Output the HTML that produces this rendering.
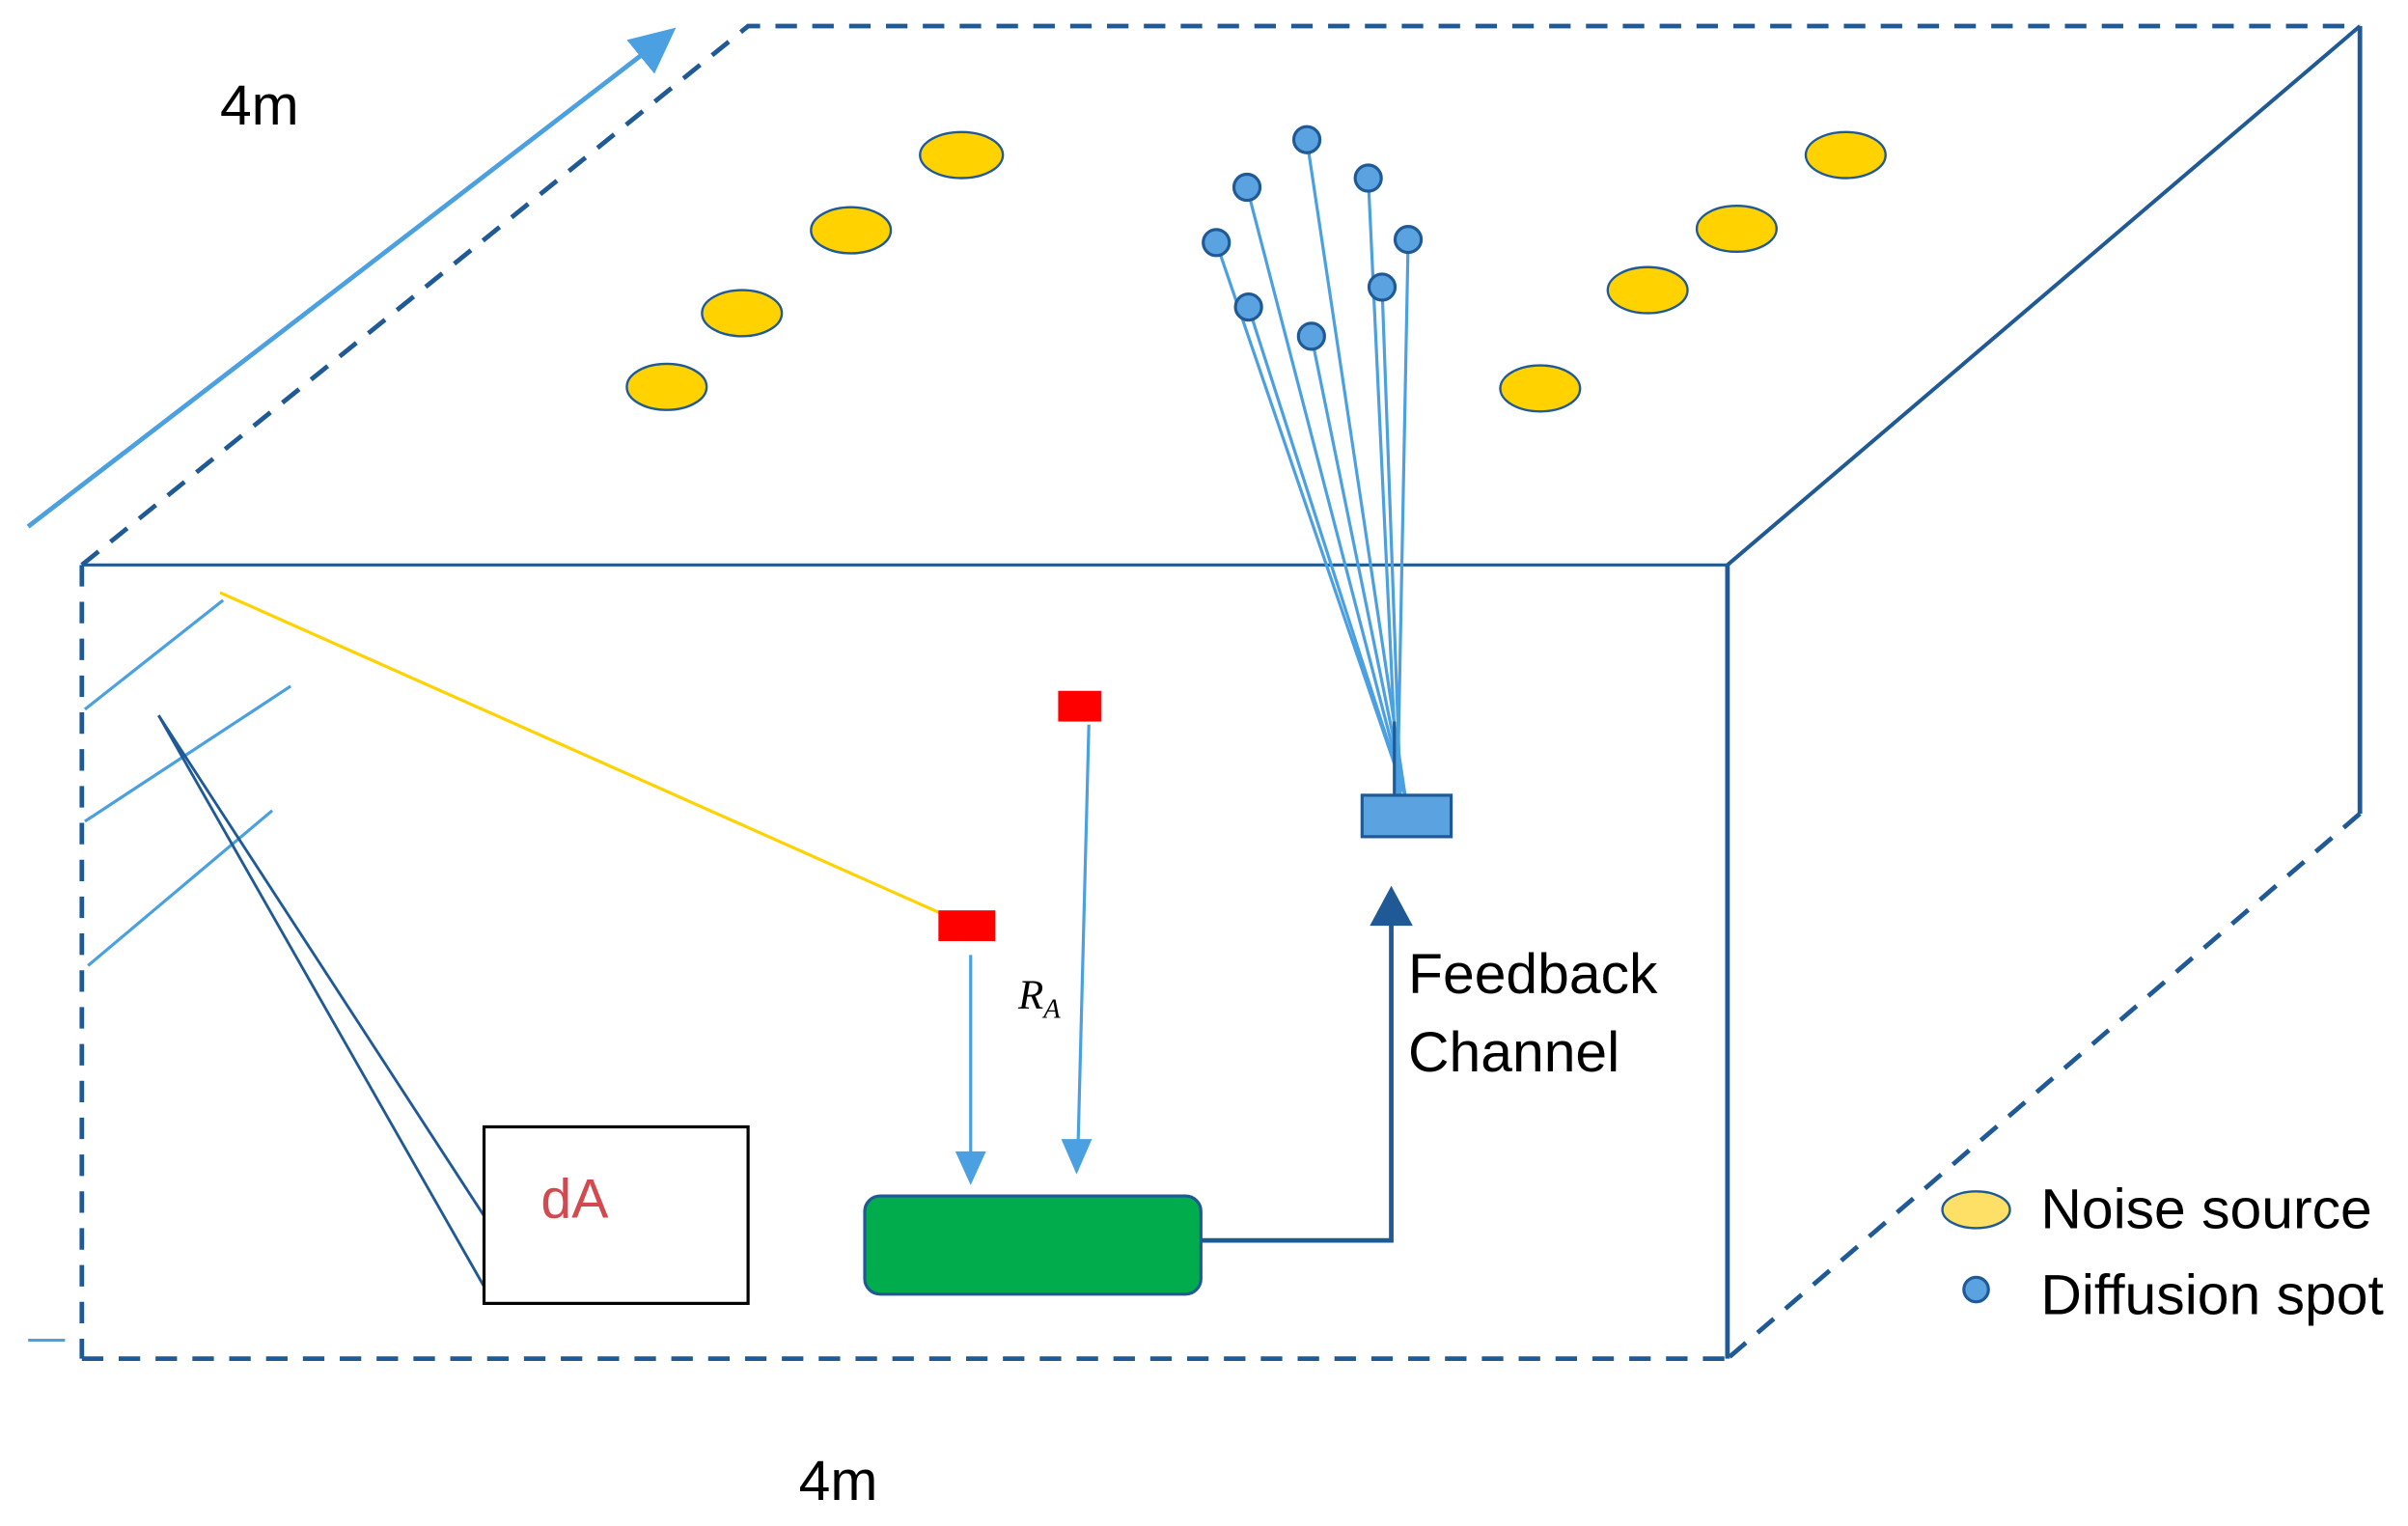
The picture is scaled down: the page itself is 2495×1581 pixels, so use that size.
<!DOCTYPE html>
<html><head><meta charset="utf-8"><style>html,body{margin:0;padding:0;background:#fff}svg{display:block}</style></head>
<body>
<svg width="2495" height="1581" viewBox="0 0 1568 994" xmlns="http://www.w3.org/2000/svg" font-family="Liberation Sans, sans-serif">
<rect width="1568" height="994" fill="#fff"/>
<g stroke="#1f5a96" fill="none">
<path d="M53,368 L487,17 L1537,17" stroke-width="3" stroke-dasharray="14,10"/>
<path d="M1537,17 L1537,530" stroke-width="3"/>
<path d="M1537,530 L1125,885" stroke-width="3" stroke-dasharray="14,10"/>
<path d="M53,368 L1125,368" stroke-width="2"/>
<path d="M1125,368 L1537,17" stroke-width="2.5"/>
<path d="M1125,368 L1125,885" stroke-width="3"/>
<path d="M53,885 L1125,885 M53,368 L53,885" stroke-width="3" stroke-dasharray="14,10"/>
</g>
<line x1="18" y1="343" x2="420" y2="34" stroke="#4aa0e0" stroke-width="3"/>
<polygon points="440,18 408,26 426,48" fill="#4aa0e0"/>
<text x="143" y="81" font-size="37">4m</text>
<text x="520" y="977" font-size="37">4m</text>
<g fill="#ffd200" stroke="#1f5a96" stroke-width="1.5">
<ellipse cx="434" cy="252" rx="26" ry="15"/><ellipse cx="483" cy="204" rx="26" ry="15"/>
<ellipse cx="554" cy="150" rx="26" ry="15"/><ellipse cx="626" cy="101" rx="27" ry="15"/>
<ellipse cx="1003" cy="253" rx="26" ry="15"/><ellipse cx="1073" cy="189" rx="26" ry="15"/>
<ellipse cx="1131" cy="149" rx="26" ry="15"/><ellipse cx="1202" cy="101" rx="26" ry="15"/>
</g>
<g stroke="#4aa0e0" stroke-width="2">
<line x1="851" y1="91" x2="915" y2="518"/><line x1="812" y1="122" x2="915" y2="518"/>
<line x1="792" y1="158" x2="915" y2="518"/><line x1="813" y1="200" x2="915" y2="518"/>
<line x1="854" y1="219" x2="915" y2="518"/><line x1="891" y1="116" x2="910" y2="518"/>
<line x1="917" y1="156" x2="910" y2="518"/><line x1="900" y1="187" x2="912" y2="518"/>
</g>
<line x1="908" y1="470" x2="908" y2="518" stroke="#1f5a96" stroke-width="2"/>
<g fill="#5ba3e0" stroke="#1f5a96" stroke-width="2">
<circle cx="851" cy="91" r="8.5"/><circle cx="812" cy="122" r="8.5"/><circle cx="792" cy="158" r="8.5"/>
<circle cx="813" cy="200" r="8.5"/><circle cx="854" cy="219" r="8.5"/><circle cx="891" cy="116" r="8.5"/>
<circle cx="917" cy="156" r="8.5"/><circle cx="900" cy="187" r="8.5"/>
<rect x="887" y="518" width="58" height="27"/>
</g>
<g stroke="#4aa0e0" stroke-width="2">
<line x1="55" y1="462" x2="145" y2="391"/><line x1="55" y1="535" x2="189" y2="447"/>
<line x1="57" y1="629" x2="177" y2="528"/>
</g>
<g stroke="#1f5a96" stroke-width="1.8" fill="none">
<line x1="103" y1="466" x2="315" y2="792"/><line x1="103" y1="466" x2="315" y2="838"/>
</g>
<line x1="143" y1="386" x2="615" y2="596" stroke="#ffd200" stroke-width="2"/>
<line x1="18" y1="873" x2="42" y2="873" stroke="#4aa0e0" stroke-width="2"/>
<rect x="315" y="734" width="172" height="115" fill="#fff" stroke="#000" stroke-width="2"/>
<text x="352" y="793" font-size="36" fill="#d14a50">dA</text>
<rect x="611" y="593" width="37" height="20" fill="#ff0000"/>
<rect x="689" y="450" width="28" height="20" fill="#ff0000"/>
<g stroke="#4aa0e0" stroke-width="2">
<line x1="632" y1="622" x2="632" y2="752"/><line x1="709" y1="472" x2="702" y2="745"/>
</g>
<polygon points="622,750 642,750 632,772" fill="#4aa0e0"/>
<polygon points="691,742 711,742 701,765" fill="#4aa0e0"/>
<text x="663" y="657" font-size="27" font-style="italic" font-family="Liberation Serif, serif">R<tspan font-size="18" dy="6">A</tspan></text>
<rect x="563" y="779" width="219" height="64" rx="10" fill="#00ac4c" stroke="#1f5a96" stroke-width="2"/>
<path d="M782,808 L906,808 L906,600" stroke="#1f5a96" stroke-width="3" fill="none"/>
<polygon points="892,603 920,603 906,577" fill="#1f5a96"/>
<text x="917" y="647" font-size="37">Feedback</text>
<text x="917" y="698" font-size="37">Channel</text>
<ellipse cx="1287" cy="788" rx="22" ry="12" fill="#ffe066" stroke="#1f5a96" stroke-width="1.5"/>
<circle cx="1287" cy="840" r="8" fill="#5ba3e0" stroke="#1f5a96" stroke-width="2"/>
<text x="1329" y="800" font-size="37">Noise source</text>
<text x="1329" y="856" font-size="37">Diffusion spot</text>
</svg>
</body></html>
